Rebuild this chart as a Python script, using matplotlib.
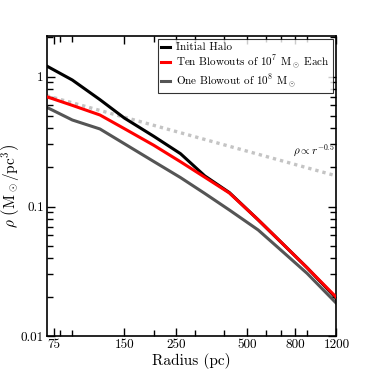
import matplotlib
matplotlib.use("Agg")
import matplotlib.pyplot as plt
from matplotlib.ticker import FixedLocator, NullFormatter, FixedFormatter

plt.rcParams['font.family'] = ['cmr10', 'DejaVu Serif']
plt.rcParams['mathtext.fontset'] = 'cm'
plt.rcParams['axes.formatter.use_mathtext'] = True

radius = [70, 90, 118, 150, 200, 260, 330, 420, 557, 700, 900, 1200]
initial_halo = [1.205, 0.94, 0.664, 0.479, 0.347, 0.255, 0.172, 0.128, 0.079, 0.0528, 0.0338, 0.0196]
ten_blowouts = [0.699, 0.60, 0.506, 0.397, 0.296, 0.221, 0.168, 0.127, 0.079, 0.0528, 0.0338, 0.0200]
one_blowout = [0.58, 0.463, 0.395, 0.304, 0.222, 0.167, 0.126, 0.094, 0.066, 0.0458, 0.0306, 0.0180]
powerlaw_r = [70, 1200]
powerlaw_rho = [0.712, 0.172]

xticks_major = [75, 150, 250, 500, 800, 1200]
xticks_minor = [80, 90, 200, 300, 400, 600, 700, 900]
yticks_major = [0.01, 0.1, 1]
ytick_labels = ["0.01", "0.1", "1"]

fig = plt.figure(figsize=(3.74, 3.74), dpi=100)
ax = fig.add_axes([0.1249, 0.1003, 0.8995 - 0.1249, 0.9037 - 0.1003])

ax.plot(powerlaw_r, powerlaw_rho, color='#c4c4c4', lw=2.4, ls=(0, (1, 1.2)), zorder=1)
ax.plot(radius, initial_halo, color='black', lw=2.2, label='Initial Halo', zorder=2)
ax.plot(radius, ten_blowouts, color='#ff0000', lw=2.2,
        label=r'Ten Blowouts of 10$^7$ M$_\odot$ Each', zorder=3)
ax.plot(radius, one_blowout, color='#555555', lw=2.2,
        label=r'One Blowout of 10$^8$ M$_\odot$', zorder=2)

ax.set_xscale('log')
ax.set_yscale('log')
ax.set_xlim(70, 1200)
ax.set_ylim(0.01, 2.05)

ax.xaxis.set_major_locator(FixedLocator(xticks_major))
ax.xaxis.set_major_formatter(FixedFormatter([str(v) for v in xticks_major]))
ax.xaxis.set_minor_locator(FixedLocator(xticks_minor))
ax.xaxis.set_minor_formatter(NullFormatter())
ax.yaxis.set_major_locator(FixedLocator(yticks_major))
ax.yaxis.set_major_formatter(FixedFormatter(ytick_labels))

ax.tick_params(which='both', direction='in', top=True, right=True, labelsize=9.5, width=1.0, pad=2)
ax.tick_params(which='major', length=6)
ax.tick_params(which='minor', length=4)
for s in ax.spines.values():
    s.set_linewidth(1.2)

ax.set_xlabel('Radius (pc)', fontsize=11, labelpad=1)
ax.set_ylabel(r'$\rho$ $\left(\mathrm{M}_\odot/\mathrm{pc}^3\right)$', fontsize=11)
ax.yaxis.set_label_coords(-0.09, 0.5)

ax.text(1180, 0.267, r'$\rho \propto r^{-0.5}$', fontsize=8, ha='right', va='center')

leg = ax.legend(loc='upper right', fontsize=8, frameon=True, fancybox=False,
                edgecolor='black', handlelength=0.8, handletextpad=0.5,
                borderaxespad=0.3, borderpad=0.3, labelspacing=0.15)
leg.get_frame().set_linewidth(0.8)

fig.savefig('out.png', dpi=100)
